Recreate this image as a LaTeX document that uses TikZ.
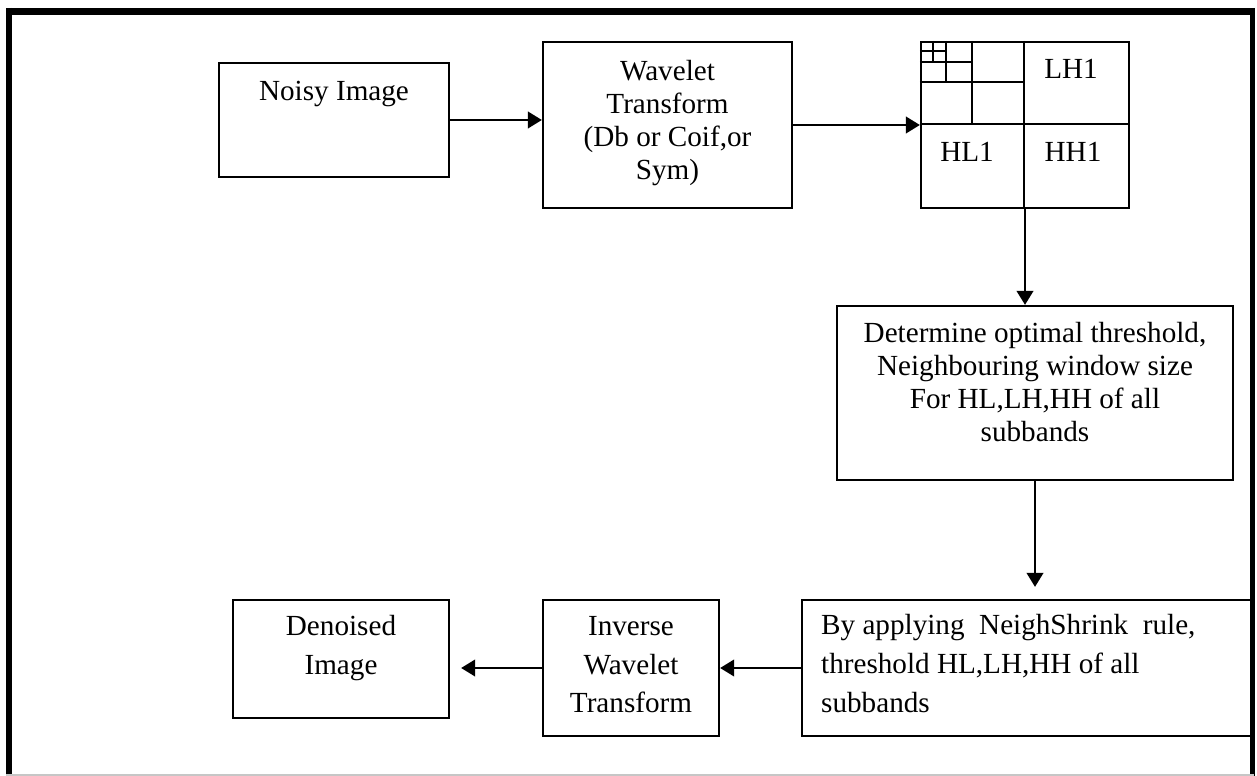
\documentclass[tikz,border=0pt]{standalone}
\usepackage{fontspec}
\setmainfont{Liberation Serif}
\usetikzlibrary{positioning,arrows.meta}

\tikzset{
	box/.style = {draw, line width=1.3pt, inner sep=0pt},
	txt/.style = {inner sep=0pt, align=center, font=\fontsize{16.6}{18.7}\selectfont},
	txtlow/.style = {txt, font=\fontsize{16.6}{22.1}\selectfont},
	arr/.style = {-{Triangle[length=8pt,width=9.5pt]}, line width=1.2pt},
	grid/.style = {line width=1.1pt}
}

\begin{document}
\begin{tikzpicture}[x=0.02cm, y=-0.02cm]
\def\pu{0.02cm}
\useasboundingbox (0,0) rectangle (1257,776);

% frame
\draw[line width=4pt] (6,11.5) -- (1254,11.5);
\draw[line width=3.4pt] (9,8) -- (9,776);
\draw[line width=2.4pt] (1252.5,8) -- (1252.5,776);
\draw[gray!45, line width=0.6pt] (6,775) -- (1254,775);

% top row
\node[box, minimum width=230*\pu, minimum height=114*\pu] (noisy) at (334,120) {};
\node[txt, below=0.38cm of noisy.north] (noisyt) {Noisy Image};

\node[box, minimum width=249*\pu, minimum height=166*\pu] (wt) at (667.5,125) {};
\node[txt, below=0.38cm of wt.north] (wtt) {Wavelet\\Transform\\(Db or Coif,or\\Sym)};

\node[box, minimum width=208*\pu, minimum height=166*\pu] (sb) at (1025,125) {};
\foreach \k in {1,...,4}{
	\pgfmathsetmacro\f{2^(-\k)}
	\draw[grid] (sb.north west) ++(208*\f,0) -- ++(0,332*\f);
	\draw[grid] (sb.north west) ++(0,166*\f) -- ++(416*\f,0);
}
\node[txt, anchor=base] (lh) at (1071,79) {LH1};
\node[txt, anchor=base] (hl) at (967,162) {HL1};
\node[txt, anchor=base] (hh) at (1073,162) {HH1};

% right column
\node[box, minimum width=396*\pu, minimum height=174*\pu] (det) at (1035,393) {};
\node[txt, below=0.34cm of det.north] (dett) {Determine optimal threshold,\\Neighbouring window size\\For HL,LH,HH of all\\subbands};

% bottom row
\node[box, minimum width=451*\pu, minimum height=136*\pu] (ba) at (1027.5,668) {};
\node[txtlow, align=left, below right=0.3cm and 0.4cm of ba.north west] (bat) {By applying\ \ NeighShrink\ \ rule,\\threshold HL,LH,HH of all\\subbands};

\node[box, minimum width=176*\pu, minimum height=136*\pu] (inv) at (631,668) {};
\node[txtlow, below=0.34cm of inv.north] (invt) {Inverse\\Wavelet\\Transform};

\node[box, minimum width=216*\pu, minimum height=118*\pu] (den) at (341,659) {};
\node[txtlow, below=0.32cm of den.north] (dent) {Denoised\\Image};

% arrows
\draw[arr] (noisy.east) -- (noisy.east -| wt.west);
\draw[arr] (wt.east) -- (sb.west);
\draw[arr] (sb.south) -- (sb.south |- det.north);
\draw[arr, shorten >=0.24cm] (det.south) -- (det.south |- ba.north);
\draw[arr] (ba.west) -- (inv.east);
\draw[arr, shorten >=0.22cm] (inv.west) -- (inv.west -| den.east);

\end{tikzpicture}
\end{document}
